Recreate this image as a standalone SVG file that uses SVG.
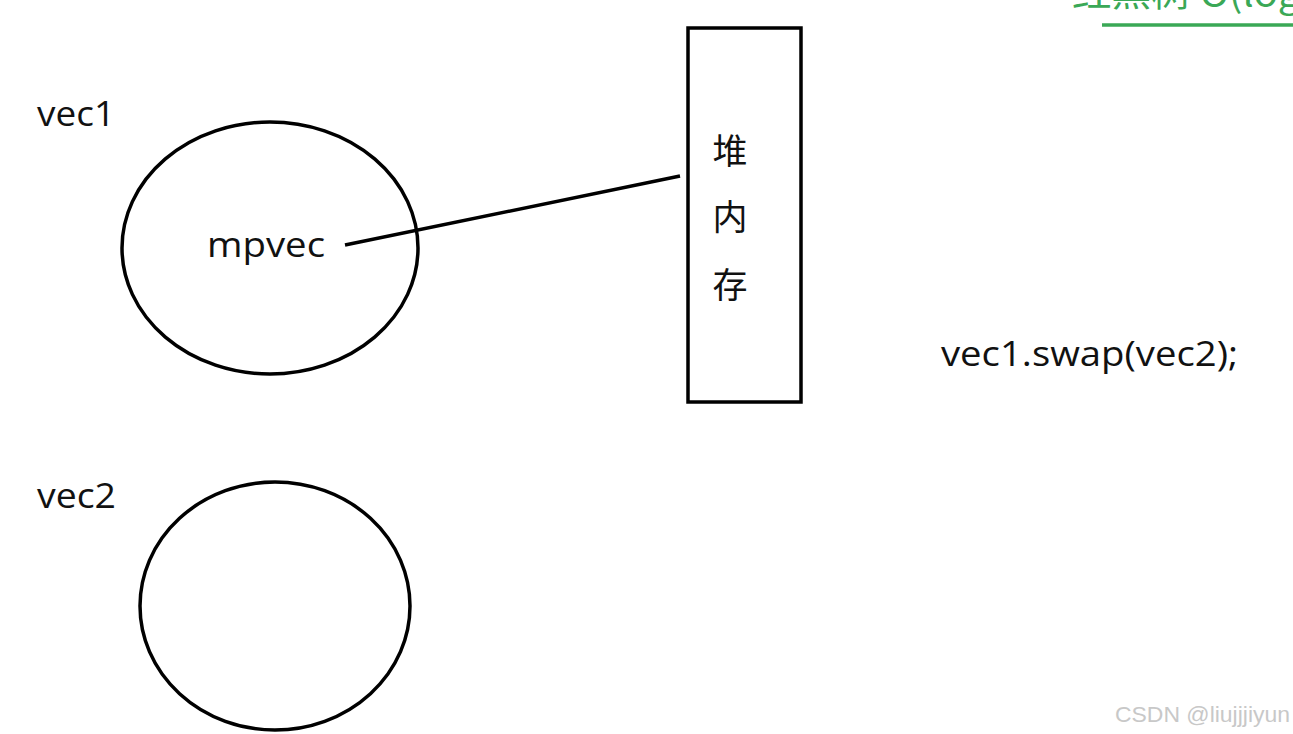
<svg xmlns="http://www.w3.org/2000/svg" width="1293" height="734" viewBox="0 0 1293 734">
<style>
.t{font-family:"Open Sans","Noto Sans","Noto Sans CJK SC",sans-serif;font-size:35px;fill:#111}
.c{font-family:"Noto Sans CJK SC",sans-serif;font-size:35px;fill:#111;text-anchor:middle}
.s{fill:none;stroke:#000;stroke-width:3.5}
</style>
<rect width="1293" height="734" fill="#fff"/>
<g id="top-note">
<text x="1072" y="7" font-family="Noto Sans CJK SC,sans-serif" font-size="37" fill="#3aa856" textLength="228" lengthAdjust="spacingAndGlyphs">红黑树 O(log</text>
<line x1="1102" y1="25" x2="1293" y2="25" stroke="#3aa856" stroke-width="3.5"/>
</g>
<g id="vec1">
<text class="t" x="37" y="126" textLength="78" lengthAdjust="spacingAndGlyphs">vec1</text>
<ellipse class="s" cx="270" cy="248" rx="148" ry="126"/>
<text class="t" x="207" y="257" textLength="118" lengthAdjust="spacingAndGlyphs">mpvec</text>
</g>
<g id="vec2">
<text class="t" x="37" y="508" textLength="79" lengthAdjust="spacingAndGlyphs">vec2</text>
<ellipse class="s" cx="275" cy="606" rx="135" ry="124"/>
</g>
<g id="heap">
<rect class="s" x="688" y="28" width="113" height="374"/>
<text class="c" x="730" y="164">堆</text>
<text class="c" x="730" y="230">内</text>
<text class="c" x="730" y="298">存</text>
</g>
<g id="connectors">
<line x1="345" y1="245" x2="680" y2="176" stroke="#000" stroke-width="3.5"/>
</g>
<g id="swap">
<text class="t" x="941" y="366" textLength="297" lengthAdjust="spacingAndGlyphs">vec1.swap(vec2);</text>
</g>
<text x="1115" y="722" font-family="Liberation Sans,Arial,sans-serif" font-size="22" fill="#c8c8c8" textLength="175" lengthAdjust="spacingAndGlyphs">CSDN @liujjjiyun</text>
</svg>
